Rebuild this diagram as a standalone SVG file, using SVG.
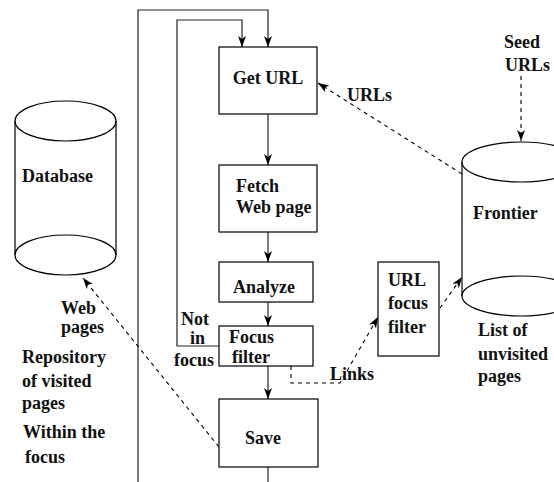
<svg xmlns="http://www.w3.org/2000/svg" width="554" height="482" viewBox="0 0 554 482">
<style>
.box{fill:#fff;stroke:#000;stroke-width:1.2}
.cyl{fill:none;stroke:#000;stroke-width:1.2}
.ln{fill:none;stroke:#222;stroke-width:1.2}
.dash{fill:none;stroke:#000;stroke-width:1.1;stroke-dasharray:4,4}
text{font-family:"Liberation Serif","Times New Roman",serif;font-weight:bold;font-size:18px;fill:#111}
</style>
<defs>
<marker id="ah" markerUnits="userSpaceOnUse" markerWidth="12" markerHeight="8" refX="11" refY="4" orient="auto">
<path d="M0,0 L11,4 L0,8 L3,4 z" fill="#000"/>
</marker>
</defs>
<rect width="554" height="482" fill="#fff"/>
<g id="connectors">
<polyline class="ln" points="138,482 138,10 268,10 268,47" marker-end="url(#ah)"/>
<polyline class="ln" points="219,346 177,346 177,20 242,20 242,47" marker-end="url(#ah)"/>
<line class="ln" x1="268" y1="114" x2="268" y2="165" marker-end="url(#ah)"/>
<line class="ln" x1="268" y1="232" x2="268" y2="262" marker-end="url(#ah)"/>
<line class="ln" x1="268" y1="302" x2="268" y2="326" marker-end="url(#ah)"/>
<line class="ln" x1="268" y1="366" x2="268" y2="399" marker-end="url(#ah)"/>
<line class="ln" x1="268" y1="467" x2="268" y2="482"/>
<polyline class="dash" points="291,366 291,383 340,383 378,317" marker-end="url(#ah)"/>
<line class="dash" x1="440" y1="308" x2="462" y2="277" marker-end="url(#ah)"/>
<line class="dash" x1="462" y1="174" x2="318" y2="83" marker-end="url(#ah)"/>
<line class="dash" x1="521" y1="76" x2="521" y2="141" marker-end="url(#ah)"/>
<line class="dash" x1="219" y1="447" x2="83" y2="278" marker-end="url(#ah)"/>
</g>
<g id="getUrl">
<rect class="box" x="219" y="47" width="98" height="67"/>
<text x="268" y="84" text-anchor="middle">Get URL</text>
</g>
<g id="fetch">
<rect class="box" x="219" y="165" width="98" height="67"/>
<text x="236" y="192">Fetch</text>
<text x="236" y="213">Web page</text>
</g>
<g id="analyze">
<rect class="box" x="219" y="262" width="94" height="40"/>
<text x="233" y="293">Analyze</text>
</g>
<g id="focusFilter">
<rect class="box" x="219" y="326" width="94" height="40"/>
<text x="229" y="343">Focus</text>
<text x="232" y="363">filter</text>
</g>
<g id="save">
<rect class="box" x="219" y="399" width="99" height="68"/>
<text x="263" y="444" text-anchor="middle">Save</text>
</g>
<g id="notInFocus">
<text x="181" y="325">Not</text>
<text x="190" y="344">in</text>
<text x="174" y="366">focus</text>
</g>
<g id="database">
<line class="cyl" x1="15" y1="121" x2="15" y2="255"/>
<line class="cyl" x1="116" y1="121" x2="116" y2="255"/>
<ellipse class="cyl" cx="65.5" cy="121" rx="50.5" ry="20"/>
<ellipse class="cyl" cx="65.5" cy="255" rx="50.5" ry="20"/>
<text x="22" y="182">Database</text>
</g>
<g id="dbLabels">
<text x="61" y="314">Web</text>
<text x="61" y="333">pages</text>
<text x="22" y="363">Repository</text>
<text x="22" y="387">of visited</text>
<text x="22" y="409">pages</text>
<text x="23" y="438">Within the</text>
<text x="25" y="463">focus</text>
</g>
<g id="frontier">
<line class="cyl" x1="462" y1="162" x2="462" y2="296"/>
<line class="cyl" x1="580" y1="162" x2="580" y2="296"/>
<ellipse class="cyl" cx="521" cy="162" rx="59" ry="20"/>
<ellipse class="cyl" cx="521" cy="296" rx="59" ry="20"/>
<text x="473" y="219">Frontier</text>
<text x="478" y="336">List of</text>
<text x="478" y="360">unvisited</text>
<text x="478" y="382">pages</text>
</g>
<g id="seed">
<text x="504" y="48">Seed</text>
<text x="505" y="71">URLs</text>
</g>
<g id="urlFilter">
<rect class="box" x="378" y="262" width="61" height="94"/>
<text x="388" y="286">URL</text>
<text x="388" y="309">focus</text>
<text x="388" y="333">filter</text>
</g>
<g id="edgeLabels">
<text x="347" y="101">URLs</text>
<text x="330" y="380">Links</text>
</g>
</svg>
